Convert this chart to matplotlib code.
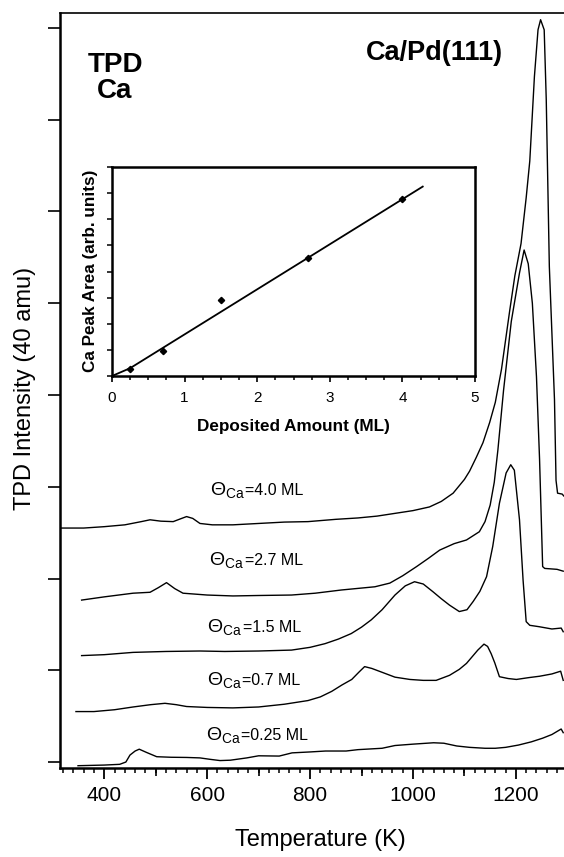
import numpy as np
import matplotlib
matplotlib.use('Agg')
import matplotlib.pyplot as plt
from matplotlib.ticker import MultipleLocator, NullFormatter

plt.rcParams['font.family'] = ['Liberation Sans', 'DejaVu Sans']
plt.rcParams['mathtext.fontset'] = 'custom'
plt.rcParams['mathtext.rm'] = 'Liberation Sans'
plt.rcParams['mathtext.it'] = 'Liberation Sans:italic'
plt.rcParams['mathtext.bf'] = 'Liberation Sans:bold'

# TPD traces (temperature in K, intensity in arb. units incl. offset)
t_025 = [349, 400, 430, 442, 450, 460, 468, 482, 502, 530, 560, 586, 605, 625, 645, 677, 700, 740,
         765, 800, 830, 870, 893, 940, 965, 1000, 1040, 1060, 1085, 1110, 1140, 1160, 1180, 1205,
         1230, 1252, 1270, 1288, 1292]
i_025 = [-0.04, -0.033, -0.025, 0.0, 0.076, 0.12, 0.14, 0.105, 0.058, 0.052, 0.05, 0.045, 0.03, 0.016,
         0.02, 0.045, 0.068, 0.065, 0.10, 0.11, 0.12, 0.12, 0.135, 0.15, 0.18, 0.195, 0.21, 0.205, 0.175,
         0.16, 0.15, 0.15, 0.16, 0.185, 0.22, 0.26, 0.30, 0.36, 0.32]

t_07 = [345, 380, 420, 456, 490, 518, 540, 560, 600, 650, 700, 750, 796, 820, 842, 862, 881, 895, 906,
        920, 939, 965, 994, 1020, 1045, 1071, 1090, 1104, 1126, 1138, 1145, 1152, 1159, 1168, 1185,
        1201, 1225, 1246, 1270, 1287, 1292]
i_07 = [0.55, 0.55, 0.57, 0.60, 0.625, 0.64, 0.625, 0.605, 0.595, 0.59, 0.60, 0.63, 0.67, 0.71, 0.77,
        0.84, 0.90, 0.98, 1.04, 1.02, 0.98, 0.925, 0.90, 0.89, 0.89, 0.945, 1.01, 1.075, 1.22, 1.285,
        1.26, 1.18, 1.08, 0.93, 0.91, 0.90, 0.92, 0.935, 0.96, 0.99, 0.89]

t_15 = [356, 400, 456, 520, 586, 634, 700, 764, 800, 829, 855, 880, 900, 919, 940, 965, 985, 1003,
        1020, 1039, 1055, 1071, 1090, 1105, 1117, 1130, 1143, 1155, 1168, 1181, 1190, 1197, 1207,
        1214, 1220, 1227, 1245, 1270, 1288, 1292]
i_15 = [1.16, 1.17, 1.195, 1.205, 1.21, 1.205, 1.21, 1.22, 1.25, 1.29, 1.34, 1.40, 1.47, 1.55, 1.66,
        1.82, 1.92, 1.965, 1.94, 1.855, 1.78, 1.71, 1.64, 1.66, 1.75, 1.86, 2.02, 2.35, 2.82, 3.15,
        3.24, 3.18, 2.64, 1.98, 1.53, 1.49, 1.475, 1.45, 1.46, 1.42]

t_27 = [356, 400, 456, 489, 505, 521, 537, 553, 600, 650, 700, 764, 810, 861, 926, 955, 980, 1007,
        1030, 1052, 1080, 1104, 1129, 1140, 1150, 1158, 1165, 1176, 1191, 1207, 1216, 1224, 1232,
        1240, 1246, 1252, 1256, 1280, 1292]
i_27 = [1.765, 1.80, 1.84, 1.85, 1.90, 1.955, 1.89, 1.84, 1.82, 1.81, 1.815, 1.82, 1.84, 1.875, 1.91,
        1.95, 2.03, 2.13, 2.22, 2.31, 2.38, 2.42, 2.51, 2.62, 2.8, 3.05, 3.4, 4.05, 4.8, 5.33, 5.58,
        5.43, 5.0, 4.2, 3.3, 2.13, 2.11, 2.10, 2.08]

t_40 = [317, 360, 400, 440, 472, 489, 510, 534, 548, 560, 572, 586, 610, 650, 700, 750, 796, 850, 893,
        930, 965, 1000, 1032, 1055, 1078, 1100, 1110, 1123, 1136, 1149, 1160, 1172, 1188, 1198, 1210,
        1220, 1227, 1236, 1243, 1248, 1255, 1259, 1265, 1275, 1278, 1281, 1290, 1293]
i_40 = [2.55, 2.55, 2.565, 2.585, 2.62, 2.64, 2.625, 2.62, 2.65, 2.675, 2.655, 2.60, 2.585, 2.585,
        2.60, 2.615, 2.62, 2.645, 2.66, 2.68, 2.71, 2.74, 2.78, 2.84, 2.93, 3.08, 3.17, 3.32, 3.48,
        3.70, 3.92, 4.28, 4.92, 5.30, 5.65, 6.15, 6.55, 7.47, 7.98, 8.09, 7.98, 7.22, 5.40, 3.95, 3.07,
        2.93, 2.92, 2.90]

curves = [(t_025, i_025), (t_07, i_07), (t_15, i_15), (t_27, i_27), (t_40, i_40)]
coverage_labels = ['0.25', '0.7', '1.5', '2.7', '4.0']
label_t = [597, 599, 600, 604, 605]
label_i = [0.24, 0.84, 1.42, 2.15, 2.91]

# inset: peak area vs deposited amount
dep_ml = [0.25, 0.7, 1.5, 2.7, 4.0]
peak_area = [0.27, 0.97, 2.90, 4.50, 6.79]
fit_ml = [0.0, 0.25, 4.28]
fit_area = [0.0, 0.30, 7.25]

fig = plt.figure(figsize=(5.64, 8.57), dpi=100)
ax = fig.add_axes([60 / 564, 1 - 768 / 857, 1 - 60 / 564, 755 / 857])

for t, i in curves:
    ax.plot(t, i, color='black', lw=1.0)

ax.set_xlim(314, 1293.5)
ax.set_ylim(-0.065, 8.163)
ax.spines['right'].set_visible(False)
ax.spines['top'].set_linewidth(1.2)
ax.spines['left'].set_linewidth(1.8)
ax.spines['bottom'].set_linewidth(1.8)

ax.xaxis.set_major_locator(MultipleLocator(200))
ax.xaxis.set_minor_locator(MultipleLocator(20))
ax.yaxis.set_major_locator(MultipleLocator(1))
ax.yaxis.set_major_formatter(NullFormatter())
ax.tick_params(axis='x', which='major', direction='out', length=8, width=1.3, labelsize=15, pad=5)
ax.tick_params(axis='x', which='minor', direction='out', length=3.5, width=1.1)
ax.tick_params(axis='y', which='major', direction='out', length=8.5, width=1.2)
ax.tick_params(top=False, right=False)

sec = ax.secondary_xaxis('bottom')
sec.set_xticks([500, 700, 900, 1100])
sec.tick_params(length=5.5, width=1.2, labelbottom=False)
sec.spines['bottom'].set_visible(False)

for lab, t, i in zip(coverage_labels, label_t, label_i):
    th = ax.text(t, i, r'$\Theta_{\mathrm{Ca}}$', fontsize=14, ha='left', va='baseline')
    ax.annotate('=' + lab + ' ML', xy=(1, i), xycoords=(th, 'data'), xytext=(0.5, 0),
                textcoords='offset points', fontsize=11.5, ha='left', va='baseline')

fig.text(115 / 564, 1 - 78 / 857, 'TPD\nCa', ha='center', va='center', fontsize=20,
         fontweight='bold', linespacing=1.05)
fig.text(434 / 564, 1 - 53 / 857, 'Ca/Pd(111)', ha='center', va='center', fontsize=19.5,
         fontweight='bold')
fig.text(25 / 564, 1 - 388 / 857, 'TPD Intensity (40 amu)', rotation=90, ha='center', va='center',
         fontsize=17)
fig.text(320 / 564, 1 - 840 / 857, 'Temperature (K)', ha='center', va='center', fontsize=17)

ins = fig.add_axes([112 / 564, 1 - 376 / 857, 363 / 564, 209 / 857])
ins.plot(fit_ml, fit_area, color='black', lw=1.3)
ins.plot(dep_ml, peak_area, 'D', color='black', ms=3.2)
ins.set_xlim(0, 5)
ins.set_ylim(0, 8)
for s in ins.spines.values():
    s.set_linewidth(1.8)
ins.xaxis.set_major_locator(MultipleLocator(1))
ins.xaxis.set_minor_locator(MultipleLocator(0.25))
ins.yaxis.set_major_locator(MultipleLocator(1))
ins.yaxis.set_major_formatter(NullFormatter())
ins.tick_params(axis='x', which='major', direction='out', length=4.5, width=1.2, labelsize=11, pad=6)
ins.tick_params(axis='x', which='minor', direction='out', length=3, width=1.1)
ins.tick_params(axis='y', which='major', direction='out', length=3.5, width=1.1)

fig.text(293.5 / 564, 1 - 426 / 857, 'Deposited Amount (ML)', ha='center', va='center',
         fontsize=12.3, fontweight='bold')
fig.text(90 / 564, 1 - 271 / 857, 'Ca Peak Area (arb. units)', rotation=90, ha='center',
         va='center', fontsize=12.3, fontweight='bold')

fig.savefig('out.png', dpi=100)
